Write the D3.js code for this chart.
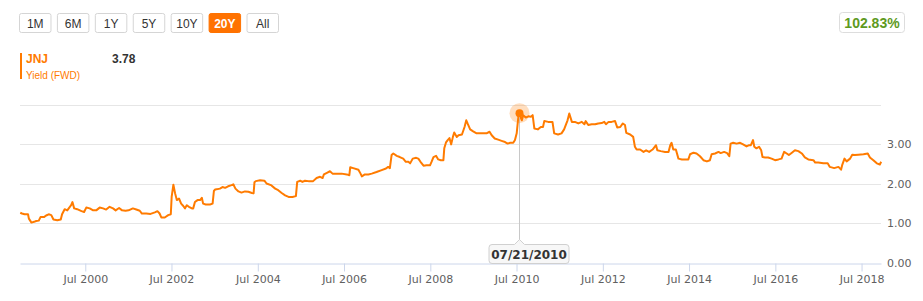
<!DOCTYPE html>
<html><head><meta charset="utf-8">
<script src="https://cdn.jsdelivr.net/npm/d3@7/dist/d3.min.js"></script>
<style>
html,body{margin:0;padding:0;background:#fff;}
svg{display:block;}
</style></head>
<body><svg id="chart" width="923" height="301"></svg>
<script>
// ---- data (decimal years, yield %) ----
const years = [
1998.99,1999.03,1999.09,1999.17,1999.19,1999.25,1999.31,1999.36,1999.42,1999.46,1999.54,1999.59,1999.65,1999.71,1999.76,1999.85,1999.93,1999.96,
2000.02,2000.08,2000.14,2000.17,2000.20,2000.24,2000.31,2000.41,2000.47,2000.52,2000.60,2000.68,2000.75,2000.83,2000.91,2000.98,
2001.06,2001.14,2001.20,2001.28,2001.35,2001.43,2001.50,2001.60,2001.68,2001.76,2001.81,2001.91,
2002.01,2002.11,2002.17,2002.22,2002.26,2002.34,2002.42,2002.48,2002.50,2002.54,2002.58,2002.62,2002.67,2002.72,2002.77,2002.81,2002.85,2002.90,2002.97,
2003.00,2003.04,2003.10,2003.16,2003.20,2003.23,2003.29,2003.39,2003.45,2003.48,2003.51,2003.57,2003.62,2003.68,2003.74,2003.81,2003.89,2003.93,2003.98,
2004.05,2004.12,2004.20,2004.28,2004.36,2004.40,2004.42,2004.45,2004.55,2004.65,2004.70,2004.80,2004.90,2004.97,
2005.05,2005.13,2005.21,2005.30,2005.38,2005.41,2005.48,2005.53,2005.59,2005.67,2005.78,2005.86,2005.94,
2006.00,2006.03,2006.10,2006.17,2006.23,2006.33,2006.44,2006.56,2006.62,2006.64,2006.71,2006.83,2006.88,2006.91,2006.98,
2007.06,2007.14,2007.25,2007.37,2007.47,2007.52,2007.56,2007.60,2007.64,2007.72,2007.79,2007.87,2007.93,2007.99,
2008.03,2008.09,2008.17,2008.22,2008.27,2008.34,2008.41,2008.49,2008.53,2008.57,2008.63,2008.68,2008.74,2008.80,2008.82,2008.86,2008.90,2008.94,2008.98,
2009.02,2009.05,2009.11,2009.15,2009.23,2009.29,2009.33,2009.36,2009.42,2009.49,2009.57,2009.65,2009.73,2009.80,2009.87,2009.92,2009.99,
2010.07,2010.15,2010.23,2010.29,2010.35,2010.42,2010.46,2010.50,2010.53,2010.55,2010.62,2010.65,2010.71,2010.77,2010.83,2010.87,2010.91,2010.99,
2011.06,2011.11,2011.14,2011.23,2011.33,2011.37,2011.46,2011.54,2011.60,2011.68,2011.72,2011.78,2011.85,2011.93,
2012.01,2012.07,2012.10,2012.16,2012.24,2012.32,2012.39,2012.47,2012.53,2012.57,2012.63,2012.70,2012.78,2012.83,2012.90,2012.96,
2013.01,2013.04,2013.13,2013.20,2013.24,2013.28,2013.36,2013.44,2013.50,2013.57,2013.65,2013.73,2013.76,2013.84,2013.94,
2014.02,2014.06,2014.09,2014.13,2014.19,2014.25,2014.33,2014.40,2014.48,2014.52,2014.60,2014.67,2014.75,2014.83,2014.91,2014.98,
2015.02,2015.10,2015.18,2015.23,2015.31,2015.38,2015.43,2015.46,2015.52,2015.60,2015.68,2015.75,2015.83,2015.89,2015.93,2015.98,
2016.01,2016.06,2016.12,2016.17,2016.20,2016.26,2016.33,2016.41,2016.49,2016.57,2016.64,2016.70,2016.76,2016.81,2016.88,2016.95,
2017.03,2017.11,2017.18,2017.26,2017.38,2017.42,2017.49,2017.61,2017.71,2017.76,2017.86,2017.96,
2018.02,2018.05,2018.10,2018.15,2018.23,2018.28,2018.34,2018.42,2018.54,2018.64,2018.69,2018.77,2018.85,2018.92,2018.95
];
const yields = [
1.26,1.24,1.22,1.22,1.11,1.01,1.03,1.05,1.06,1.15,1.15,1.19,1.22,1.20,1.09,1.07,1.09,1.22,
1.35,1.32,1.41,1.45,1.53,1.37,1.35,1.30,1.28,1.39,1.37,1.32,1.32,1.39,1.37,1.34,
1.41,1.37,1.32,1.38,1.32,1.31,1.32,1.37,1.34,1.31,1.24,1.24,
1.23,1.27,1.30,1.24,1.14,1.14,1.20,1.22,1.66,1.97,1.75,1.58,1.62,1.49,1.43,1.37,1.45,1.41,1.37,
1.37,1.53,1.58,1.58,1.64,1.49,1.47,1.47,1.49,1.81,1.85,1.86,1.87,1.91,1.89,1.93,1.96,1.98,1.87,
1.80,1.77,1.80,1.79,1.76,1.75,2.03,2.06,2.08,2.07,2.00,1.96,1.87,1.83,
1.76,1.70,1.66,1.66,1.68,2.04,2.07,2.04,2.07,2.06,2.06,2.14,2.17,
2.14,2.23,2.27,2.31,2.25,2.25,2.25,2.23,2.21,2.41,2.39,2.35,2.25,2.18,2.23,
2.23,2.25,2.29,2.34,2.38,2.42,2.39,2.72,2.76,2.70,2.67,2.63,2.55,2.55,
2.51,2.63,2.65,2.63,2.55,2.45,2.46,2.46,2.56,2.67,2.70,2.61,2.59,2.59,2.89,3.04,3.10,3.15,2.99,
3.18,3.29,3.18,3.22,3.24,3.43,3.60,3.52,3.37,3.32,3.27,3.27,3.27,3.27,3.31,3.22,3.14,
3.11,3.08,3.05,3.01,3.03,3.03,3.10,3.27,3.60,3.78,3.60,3.73,3.67,3.70,3.69,3.73,3.39,3.37,
3.43,3.43,3.58,3.56,3.56,3.27,3.24,3.27,3.37,3.60,3.77,3.56,3.56,3.52,
3.56,3.50,3.58,3.48,3.50,3.50,3.52,3.53,3.56,3.50,3.56,3.56,3.58,3.42,3.43,3.52,
3.48,3.28,3.24,3.18,2.93,2.86,2.86,2.80,2.84,2.80,2.86,2.97,2.84,2.82,2.80,
2.80,2.97,3.03,2.86,2.86,2.63,2.61,2.61,2.61,2.74,2.78,2.76,2.69,2.59,2.56,2.59,
2.74,2.76,2.80,2.77,2.80,2.77,2.69,3.01,3.03,3.01,3.03,2.99,2.94,2.97,2.97,3.10,
2.93,2.89,2.93,2.84,2.67,2.66,2.66,2.63,2.59,2.61,2.63,2.80,2.76,2.72,2.78,2.84,
2.82,2.76,2.66,2.61,2.59,2.53,2.53,2.51,2.51,2.42,2.39,2.42,
2.35,2.48,2.63,2.56,2.63,2.73,2.72,2.73,2.74,2.76,2.66,2.59,2.51,2.48,2.55
];
const rangeButtons = ["1M","6M","1Y","5Y","10Y","20Y","All"];
const activeButton = "20Y";
const tickYears = [2000,2002,2004,2006,2008,2010,2012,2014,2016,2018];
const yTicks = [0,1,2,3,4];
const yLabelTicks = [0,1,2,3];
const ticker = "JNJ";
const metric = "Yield (FWD)";
const highlightDate = "2010-07-21";
const highlightValue = 3.78;
const changeText = "102.83%";
const domainStart = 1998.984, domainEnd = 2018.947;

// ---- helpers ----
function decToDate(d){
  const y = Math.floor(d);
  const start = Date.UTC(y,0,1), end = Date.UTC(y+1,0,1);
  return new Date(start + (d - y)*(end-start));
}
const data = years.map((y,i)=>({date:decToDate(y), value:yields[i]}));

const ORANGE = "#ff7b00";
const svg = d3.select("#chart");
const x = d3.scaleUtc().domain([decToDate(domainStart), decToDate(domainEnd)]).range([20, 881]);
const y = d3.scaleLinear().domain([0,4]).range([262.5, 104.5]);

// ---- range buttons ----
const bx = d3.scaleBand().domain(rangeButtons).range([19, 278]).paddingInner(0.17);
const bg = svg.append("g").selectAll("g").data(rangeButtons).join("g")
  .attr("transform", d=>`translate(${bx(d)},13)`);
bg.append("rect").attr("x",0.5).attr("y",0.5).attr("width",bx.bandwidth()).attr("height",19)
  .attr("rx",2).attr("fill",d=>d===activeButton?"#ff7200":"#fff")
  .attr("stroke",d=>d===activeButton?"#ff7200":"#d5d5d5");
bg.append("text").attr("x",bx.bandwidth()/2+0.5).attr("y",14.5).attr("text-anchor","middle")
  .attr("font-family","Liberation Sans, Arial, sans-serif").attr("font-size",12)
  .attr("font-weight",d=>d===activeButton?"bold":"normal")
  .attr("fill",d=>d===activeButton?"#fff":"#333").text(d=>d);

// change box
svg.append("rect").attr("x",839.5).attr("y",12.5).attr("width",65).attr("height",20).attr("rx",3)
  .attr("fill","#fff").attr("stroke","#ddd");
svg.append("text").attr("x",872).attr("y",27.5).attr("text-anchor","middle")
  .attr("font-family","Liberation Sans, Arial, sans-serif").attr("font-size",14).attr("font-weight","bold")
  .attr("fill","#5e9a1e").text(changeText);

// legend
svg.append("rect").attr("x",20).attr("y",53).attr("width",2).attr("height",26).attr("fill",ORANGE);
svg.append("text").attr("x",26).attr("y",63).attr("font-family","Liberation Sans, Arial, sans-serif")
  .attr("font-size",12).attr("font-weight","bold").attr("fill",ORANGE).text(ticker);
svg.append("text").attr("x",112).attr("y",63).attr("font-family","Liberation Sans, Arial, sans-serif")
  .attr("font-size",12).attr("font-weight","bold").attr("fill","#333").text(highlightValue.toFixed(2));
svg.append("text").attr("x",26).attr("y",79).attr("font-family","Liberation Sans, Arial, sans-serif")
  .attr("font-size",10).attr("fill",ORANGE).text(metric);

// gridlines
svg.append("g").selectAll("line").data(yTicks.filter(d=>d>0)).join("line")
  .attr("x1",20).attr("x2",881).attr("y1",d=>Math.round(y(d))+0.5).attr("y2",d=>Math.round(y(d))+0.5)
  .attr("stroke","#e6e6e6").attr("stroke-width",1);

// x axis
const xAxis = d3.axisBottom(x).tickValues(tickYears.map(yr=>new Date(Date.UTC(yr,6,1))))
  .tickFormat(d3.utcFormat("Jul %Y")).tickSize(8).tickSizeOuter(0).tickPadding(4);
const gx = svg.append("g").attr("transform",`translate(0,${Math.round(y(0))+0.5})`).call(xAxis);
gx.select(".domain").attr("stroke","#ccd6eb");
gx.selectAll(".tick line").attr("stroke","#ccd6eb");
gx.selectAll(".tick text").attr("fill","#606060").attr("font-family","DejaVu Sans, sans-serif").attr("font-size",11);

// y labels
svg.append("g").selectAll("text").data(yLabelTicks).join("text")
  .attr("x",887).attr("y",d=>y(d)+4).attr("font-family","DejaVu Sans, sans-serif").attr("font-size",11)
  .attr("fill","#606060").text(d=>d.toFixed(2));

// line
svg.append("path").datum(data).attr("fill","none").attr("stroke",ORANGE).attr("stroke-width",2)
  .attr("stroke-linejoin","round")
  .attr("d", d3.line().x(d=>x(d.date)).y(d=>y(d.value)));

// crosshair + tooltip
const hx = Math.round(x(new Date(highlightDate+"T00:00:00Z")))+0.5;
const hy = y(highlightValue);
svg.append("line").attr("x1",hx).attr("x2",hx).attr("y1",hy).attr("y2",244).attr("stroke","#c8c8c8");
svg.append("circle").attr("cx",hx).attr("cy",hy).attr("r",10).attr("fill",ORANGE).attr("opacity",0.25);
svg.append("circle").attr("cx",hx).attr("cy",hy).attr("r",4).attr("fill",ORANGE);
const tw = 80, th = 19, tx0 = hx - 30.5, ty0 = 244.5;
svg.append("path")
  .attr("d",`M${tx0+3},${ty0} H${hx-5} L${hx},${ty0-5} L${hx+5},${ty0} H${tx0+tw-3} Q${tx0+tw},${ty0} ${tx0+tw},${ty0+3} V${ty0+th-3} Q${tx0+tw},${ty0+th} ${tx0+tw-3},${ty0+th} H${tx0+3} Q${tx0},${ty0+th} ${tx0},${ty0+th-3} V${ty0+3} Q${tx0},${ty0} ${tx0+3},${ty0} Z`)
  .attr("fill","rgba(247,247,247,0.95)").attr("stroke","#d0d0d0");
svg.append("text").attr("x",tx0+tw/2).attr("y",ty0+14).attr("text-anchor","middle")
  .attr("font-family","DejaVu Sans, sans-serif").attr("font-size",12).attr("font-weight","bold")
  .attr("fill","#333").text(d3.utcFormat("%m/%d/%Y")(new Date(highlightDate+"T00:00:00Z")));
</script></body></html>
